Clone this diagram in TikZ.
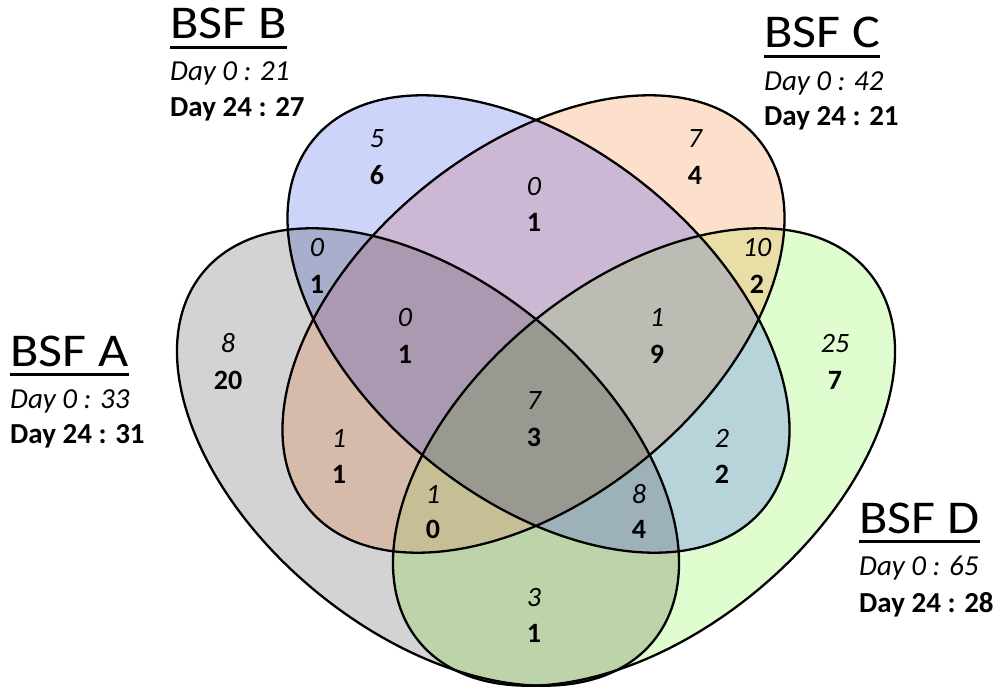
\documentclass[tikz,border=0pt]{standalone}
\usepackage{fontspec}
\setmainfont{Carlito}
% one colour for every region, named by the sets it lies in
\definecolor{rA}{RGB}{211,211,211}
\definecolor{rB}{RGB}{204,212,250}
\definecolor{rC}{RGB}{253,224,204}
\definecolor{rD}{RGB}{224,253,208}
\definecolor{rAB}{RGB}{168,174,204}
\definecolor{rAC}{RGB}{214,186,170}
\definecolor{rAD}{RGB}{189,212,171}
\definecolor{rBC}{RGB}{204,183,213}
\definecolor{rBD}{RGB}{182,212,217}
\definecolor{rCD}{RGB}{233,222,165}
\definecolor{rABC}{RGB}{170,153,176}
\definecolor{rABD}{RGB}{157,177,184}
\definecolor{rACD}{RGB}{198,191,150}
\definecolor{rBCD}{RGB}{188,188,180}
\definecolor{rABCD}{RGB}{153,153,146}
% the four set ellipses
\newcommand\ellA{[setA] (428,457) ellipse [radii]}
\newcommand\ellB{[setB] (538.5,324) ellipse [radii]}
\newcommand\ellC{[setC] (533.5,324) ellipse [radii]}
\newcommand\ellD{[setD] (644,457) ellipse [radii]}
\newcommand\clipA{\path[clip, setA] (428,457) ellipse [radii];}
\newcommand\clipB{\path[clip, setB] (538.5,324) ellipse [radii];}
\newcommand\clipC{\path[clip, setC] (533.5,324) ellipse [radii];}
\begin{document}
\begin{tikzpicture}[x=1pt,y=-1pt,
  outline/.style={line width=2.3pt, draw=black},
  setA/.style={rotate around={-39.3:(428,457)}},
  setB/.style={rotate around={-39.3:(538.5,324)}},
  setC/.style={rotate around={39.3:(533.5,324)}},
  setD/.style={rotate around={39.3:(644,457)}},
  radii/.style={x radius=291pt, y radius=175pt},
  old/.style={font=\fontsize{28}{30}\selectfont\itshape, inner sep=0pt, anchor=base},
  new/.style={font=\fontsize{28}{30}\selectfont\bfseries, inner sep=0pt, anchor=base},
  title/.style={font=\fontsize{47}{50}\selectfont, inner sep=0pt, anchor=base west},
  dayold/.style={font=\fontsize{29}{31}\selectfont\itshape, inner sep=0pt, anchor=base west},
  daynew/.style={font=\fontsize{29}{31}\selectfont\bfseries, inner sep=0pt, anchor=base west},
  uline/.style={line width=3.3pt}
]
\useasboundingbox (0,0) rectangle (997,690);

% single sets
\fill[rA, setA] (428,457) ellipse [radii];
\fill[rB, setB] (538.5,324) ellipse [radii];
\fill[rC, setC] (533.5,324) ellipse [radii];
\fill[rD, setD] (644,457) ellipse [radii];
% pairs
\begin{scope}\clipA
  \fill[rAB] \ellB; \fill[rAC] \ellC; \fill[rAD] \ellD;
\end{scope}
\begin{scope}\clipB
  \fill[rBC] \ellC; \fill[rBD] \ellD;
\end{scope}
\begin{scope}\clipC
  \fill[rCD] \ellD;
\end{scope}
% triples
\begin{scope}\clipA\clipB
  \fill[rABC] \ellC; \fill[rABD] \ellD;
\end{scope}
\begin{scope}\clipA\clipC
  \fill[rACD] \ellD;
\end{scope}
\begin{scope}\clipB\clipC
  \fill[rBCD] \ellD;
\end{scope}
% all four
\begin{scope}\clipA\clipB\clipC
  \fill[rABCD] \ellD;
\end{scope}

% set outlines
\draw[outline] \ellA;
\draw[outline] \ellB;
\draw[outline] \ellC;
\draw[outline] \ellD;

% region counts: Day 0 (italic) above Day 24 (bold)
\node[old] (nB0) at (377,148) {5};    \node[new] (nB1) at (377,185) {6};
\node[old] (nAB0) at (317,257) {0};   \node[new] (nAB1) at (317,294) {1};
\node[old] (nABC0) at (405,326) {0};  \node[new] (nABC1) at (405,363) {1};
\node[old] (nA0) at (228,352) {8};    \node[new] (nA1) at (228,389) {20};
\node[old] (nAC0) at (339,447) {1};   \node[new] (nAC1) at (339,483) {1};
\node[old] (nACD0) at (433,503) {1};  \node[new] (nACD1) at (433,538) {0};
\node[old] (nBC0) at (534,196) {0};   \node[new] (nBC1) at (534,232) {1};
\node[old] (nC0) at (695,148) {7};    \node[new] (nC1) at (695,185) {4};
\node[old] (nCD0) at (757,257) {10};  \node[new] (nCD1) at (757,294) {2};
\node[old] (nBCD0) at (657,326) {1};  \node[new] (nBCD1) at (657,363) {9};
\node[old] (nD0) at (835,352) {25};   \node[new] (nD1) at (835,389) {7};
\node[old] (nABCD0) at (534,409) {7}; \node[new] (nABCD1) at (534,446) {3};
\node[old] (nBD0) at (722,447) {2};   \node[new] (nBD1) at (722,483) {2};
\node[old] (nABD0) at (639,503) {8};  \node[new] (nABD1) at (639,538) {4};
\node[old] (nAD0) at (534,606) {3};   \node[new] (nAD1) at (534,642) {1};

% set titles with totals
\node[title] (tA) at (10,366) {\scalebox{1.11}[1]{BSF A}};
\node[dayold] (tA0) at (10,408) {Day 0 : 33};
\node[daynew] (tA1) at (10,443) {Day 24 : 31};
\draw[uline] ([yshift=-8.5pt]tA.base west) -- ([yshift=-8.5pt]tA.base east);

\node[title] (tB) at (170,39) {\scalebox{1.11}[1]{BSF B}};
\node[dayold] (tB0) at (170,81) {Day 0 : 21};
\node[daynew] (tB1) at (170,117) {Day 24 : 27};
\draw[uline] ([yshift=-8.5pt]tB.base west) -- ([yshift=-8.5pt]tB.base east);

\node[title] (tC) at (764,48) {\scalebox{1.11}[1]{BSF C}};
\node[dayold] (tC0) at (764,91) {Day 0 : 42};
\node[daynew] (tC1) at (764,126) {Day 24 : 21};
\draw[uline] ([yshift=-8.5pt]tC.base west) -- ([yshift=-8.5pt]tC.base east);

\node[title] (tD) at (859,533) {\scalebox{1.11}[1]{BSF D}};
\node[dayold] (tD0) at (859,575) {Day 0 : 65};
\node[daynew] (tD1) at (859,612) {Day 24 : 28};
\draw[uline] ([yshift=-8.5pt]tD.base west) -- ([yshift=-8.5pt]tD.base east);
\end{tikzpicture}
\end{document}
